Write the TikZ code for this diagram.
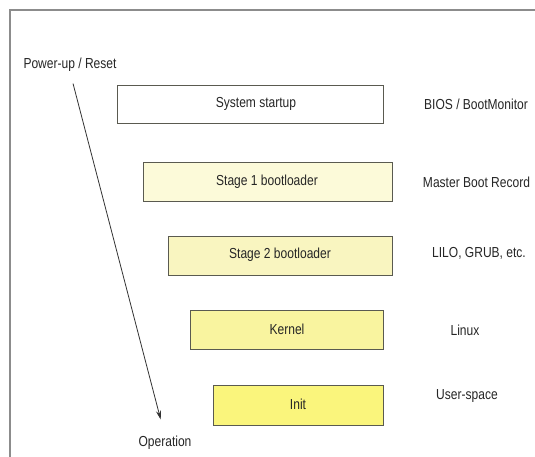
\documentclass[tikz,border=0pt]{standalone}
\usepackage{fontspec}
\setmainfont{Liberation Sans}
\usepackage{graphicx}
\usetikzlibrary{arrows.meta}
\definecolor{frame}{HTML}{8C8C8C}
\definecolor{boxline}{HTML}{5A5A50}
\definecolor{fillA}{HTML}{FCFAD9}
\definecolor{fillB}{HTML}{F9F5C0}
\definecolor{fillC}{HTML}{F9F49F}
\definecolor{fillD}{HTML}{FAF57C}
\newcommand{\nt}[1]{\scalebox{0.83}[1]{#1}}
\tikzset{
  lbl/.style={inner sep=0pt, font=\fontsize{14.5}{17}\selectfont, text=black!85},
  stagebox/.style={draw=boxline, line width=1.3pt, inner sep=0pt, anchor=north west},
}
\begin{document}
\begin{tikzpicture}[x=1pt,y=-1pt]
\useasboundingbox (0,0) rectangle (535,457);
\fill[white] (0,0) rectangle (535,457);
% frame
\draw[frame, line width=2pt] (10,457) -- (10,10) -- (535,10);
% boxes
\node[stagebox, fill=white, minimum width=266pt, minimum height=38pt] (sys) at (117,85) {};
\node[stagebox, fill=fillA, minimum width=249pt, minimum height=39pt] (st1) at (143,162) {};
\node[stagebox, fill=fillB, minimum width=224pt, minimum height=39pt] (st2) at (168,236) {};
\node[stagebox, fill=fillC, minimum width=193pt, minimum height=39pt] (ker) at (190,310) {};
\node[stagebox, fill=fillD, minimum width=170pt, minimum height=40pt] (ini) at (213,385) {};
% box texts
\node[lbl] (tsys) at (256,104) {\nt{System startup}};
\node[lbl] (tst1) at (267,181.5) {\nt{Stage 1 bootloader}};
\node[lbl] (tst2) at (280,255) {\nt{Stage 2 bootloader}};
\node[lbl] (tker) at (287,329) {\nt{Kernel}};
\node[lbl] (tini) at (298,404) {\nt{Init}};
% right labels
\node[lbl] (rsys) at (476,104) {\nt{BIOS / BootMonitor}};
\node[lbl] (rst1) at (476.5,182) {\nt{Master Boot Record}};
\node[lbl] (rst2) at (479,253) {\nt{LILO, GRUB, etc.}};
\node[lbl] (rker) at (465,330) {\nt{Linux}};
\node[lbl] (rini) at (467,396) {\nt{User-space}};
% arrow
\node[lbl] (pu) at (70,65) {\nt{Power-up / Reset}};
\node[lbl] (op) at (165,443) {\nt{Operation}};
\draw[black!80, line width=0.8pt, -{Stealth[length=9pt,width=5pt]}, shorten <=12pt, shorten >=17pt] (pu.south) -- (op.north);
\end{tikzpicture}
\end{document}
